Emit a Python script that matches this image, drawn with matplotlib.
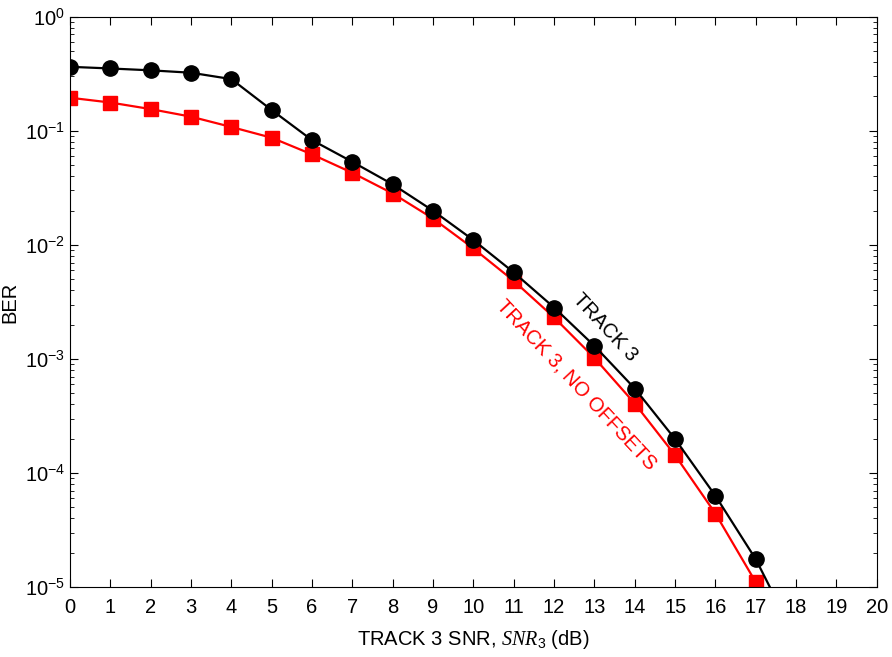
import numpy as np
import matplotlib.pyplot as plt

plt.rcParams['font.family'] = ['Liberation Sans', 'DejaVu Sans']
plt.rcParams['mathtext.fontset'] = 'custom'
plt.rcParams['mathtext.rm'] = 'Liberation Sans'
plt.rcParams['mathtext.it'] = 'Liberation Serif:italic'

snr = [0, 1, 2, 3, 4, 5, 6, 7, 8, 9, 10, 11, 12, 13, 14, 15, 16, 17, 18]
ber_track3 = [0.364, 0.352, 0.339, 0.323, 0.284, 0.152, 0.0828, 0.0534, 0.0339, 0.0199,
              0.0110, 0.00573, 0.00282, 0.00130, 5.5e-4, 1.98e-4, 6.3e-5, 1.75e-5, 3.5e-6]
ber_no_offsets = [0.195, 0.177, 0.155, 0.133, 0.108, 0.0869, 0.0621, 0.0428, 0.0282, 0.0170,
                  0.00930, 0.00483, 0.00231, 0.00102, 4.06e-4, 1.43e-4, 4.4e-5, 1.1e-5, 2.0e-6]

W, H = 892, 657
fig = plt.figure(figsize=(W / 100, H / 100), dpi=100)
ax = fig.add_axes([0.0785, 0.1065, 0.9045, 0.868])

ax.semilogy(snr, ber_track3, '-', color='black', lw=1.6, marker='o', ms=11, zorder=3)
ax.semilogy(snr, ber_no_offsets, '-', color='red', lw=1.6, marker='s', ms=10,
            mec='red', mfc='red', zorder=2)

ax.set_xlim(0, 20)
ax.set_ylim(1e-5, 1)
ax.set_xticks(range(0, 21))
ax.tick_params(which='both', direction='in', top=True, right=True, labelsize=14.5)
ax.tick_params(which='major', length=6)
ax.tick_params(which='minor', length=3)
ax.tick_params(axis='x', pad=8)

ax.set_xlabel(r'TRACK 3 SNR, $SNR_3$ (dB)', fontsize=14.5, labelpad=8)
ax.set_ylabel('BER', fontsize=14.5, labelpad=4)

# curve labels, placed in figure pixels measured from the top
ax.text(605 / W, 1 - 327 / H, 'TRACK 3', transform=fig.transFigure, rotation=-47,
        color='black', fontsize=14.5, ha='center', va='center', rotation_mode='anchor')
ax.text(576 / W, 1 - 385 / H, 'TRACK 3, NO OFFSETS', transform=fig.transFigure,
        rotation=-47, color='red', fontsize=14.5, ha='center', va='center',
        rotation_mode='anchor')

fig.savefig('out.png', dpi=100)
